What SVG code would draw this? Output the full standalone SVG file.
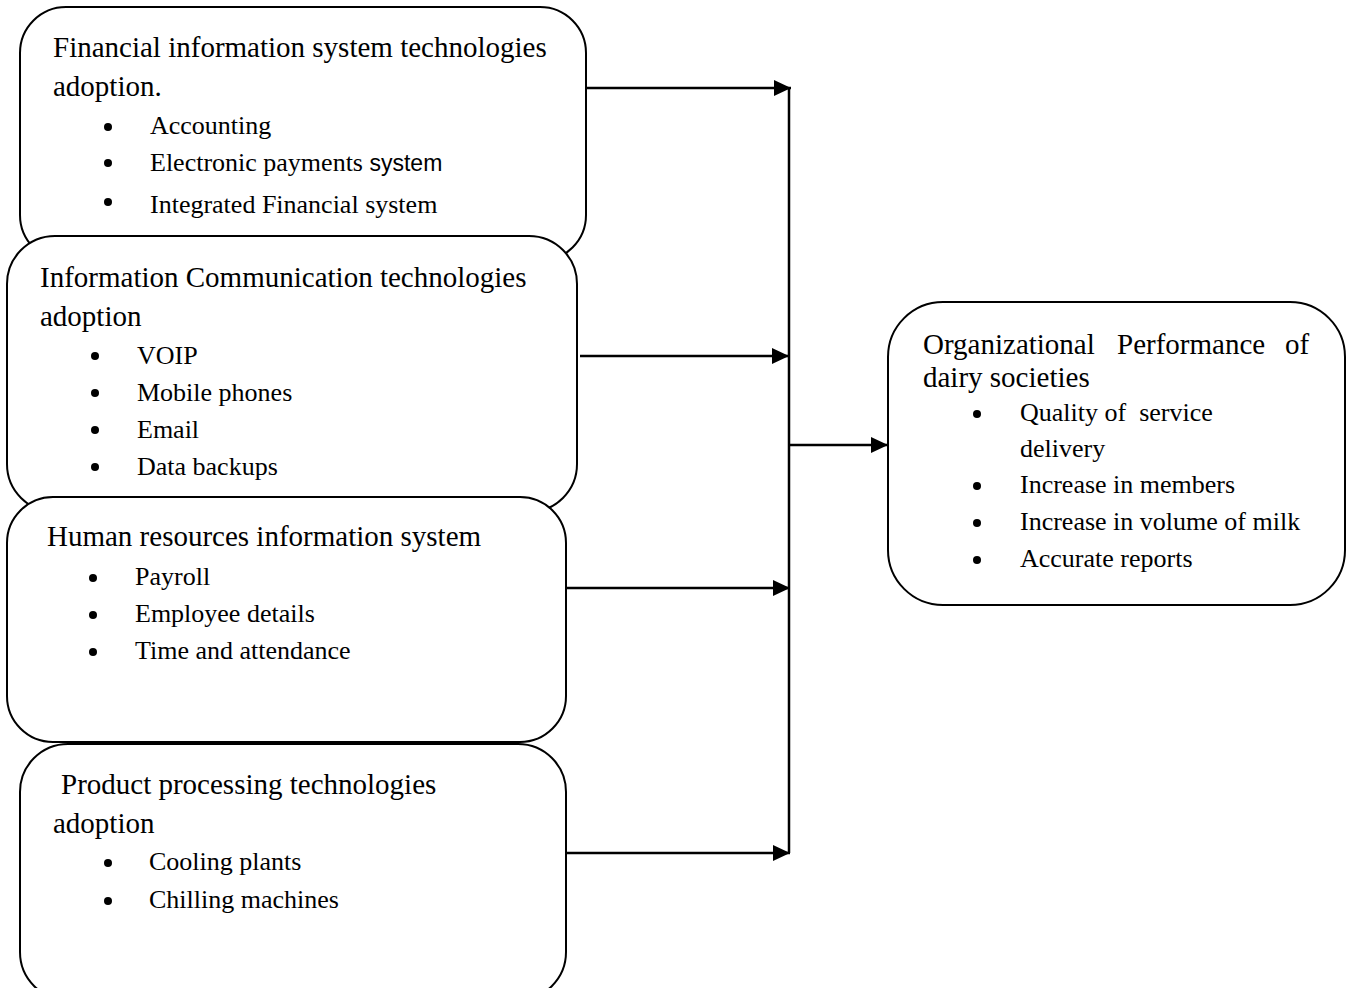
<svg xmlns="http://www.w3.org/2000/svg" width="1350" height="988" viewBox="0 0 1350 988">
<style>
.box{fill:#fff;stroke:#000;stroke-width:2}
.h{font-family:"Liberation Serif","Times New Roman",serif;font-size:29px;fill:#000}
.t{font-family:"Liberation Serif","Times New Roman",serif;font-size:26px;fill:#000;white-space:pre}
.s{font-family:"Liberation Sans",Arial,sans-serif;font-size:23px}
.c{fill:none;stroke:#000;stroke-width:2.5}
.dot{fill:#000}
</style>
<defs>
<marker id="arr" markerUnits="userSpaceOnUse" markerWidth="18" markerHeight="16" refX="17" refY="8" orient="auto">
<path d="M0,0 L17,8 L0,16 z" fill="#000"/>
</marker>
</defs>
<g id="node-financial">
<rect class="box" x="20" y="7" width="566" height="254" rx="46" ry="46"/>
<text class="h" x="53" y="57">Financial information system technologies</text>
<text class="h" x="53" y="96">adoption.</text>
<circle class="dot" cx="108" cy="127" r="4"/>
<text class="t" x="150" y="134">Accounting</text>
<circle class="dot" cx="108" cy="163" r="4"/>
<text class="t" x="150" y="171">Electronic payments <tspan class="s">system</tspan></text>
<circle class="dot" cx="108" cy="202" r="4"/>
<text class="t" x="150" y="213">Integrated Financial system</text>
</g>
<g id="node-ict">
<rect class="box" x="7" y="236" width="570" height="276" rx="48" ry="48"/>
<text class="h" x="40" y="287">Information Communication technologies</text>
<text class="h" x="40" y="326">adoption</text>
<circle class="dot" cx="95" cy="356" r="4"/>
<text class="t" x="137" y="364">VOIP</text>
<circle class="dot" cx="95" cy="393" r="4"/>
<text class="t" x="137" y="401">Mobile phones</text>
<circle class="dot" cx="95" cy="430" r="4"/>
<text class="t" x="137" y="438">Email</text>
<circle class="dot" cx="95" cy="467" r="4"/>
<text class="t" x="137" y="475">Data backups</text>
</g>
<g id="node-hris">
<rect class="box" x="7" y="497" width="559" height="245" rx="46" ry="46"/>
<text class="h" x="47" y="546">Human resources information system</text>
<circle class="dot" cx="93" cy="578" r="4"/>
<text class="t" x="135" y="585">Payroll</text>
<circle class="dot" cx="93" cy="615" r="4"/>
<text class="t" x="135" y="622">Employee details</text>
<circle class="dot" cx="93" cy="652" r="4"/>
<text class="t" x="135" y="659">Time and attendance</text>
</g>
<g id="node-product">
<rect class="box" x="20" y="744" width="546" height="256" rx="48" ry="48"/>
<text class="h" x="61" y="794">Product processing technologies</text>
<text class="h" x="53" y="833">adoption</text>
<circle class="dot" cx="108" cy="863" r="4"/>
<text class="t" x="149" y="870">Cooling plants</text>
<circle class="dot" cx="108" cy="901" r="4"/>
<text class="t" x="149" y="908">Chilling machines</text>
</g>
<g id="node-performance">
<rect class="box" x="888" y="302" width="457" height="303" rx="55" ry="55"/>
<text class="h" x="923" y="354">Organizational</text>
<text class="h" x="1117" y="354">Performance</text>
<text class="h" x="1285" y="354">of</text>
<text class="h" x="923" y="387">dairy societies</text>
<circle class="dot" cx="977" cy="414" r="4"/>
<text class="t" x="1020" y="421" xml:space="preserve">Quality of  service</text>
<text class="t" x="1020" y="457">delivery</text>
<circle class="dot" cx="977" cy="486" r="4"/>
<text class="t" x="1020" y="493">Increase in members</text>
<circle class="dot" cx="977" cy="523" r="4"/>
<text class="t" x="1020" y="530">Increase in volume of milk</text>
<circle class="dot" cx="977" cy="560" r="4"/>
<text class="t" x="1020" y="567">Accurate reports</text>
</g>
<g id="connectors">
<line class="c" x1="586" y1="88" x2="791" y2="88" marker-end="url(#arr)"/>
<line class="c" x1="580" y1="356" x2="789" y2="356" marker-end="url(#arr)"/>
<line class="c" x1="566" y1="588" x2="790" y2="588" marker-end="url(#arr)"/>
<line class="c" x1="566" y1="853" x2="790" y2="853" marker-end="url(#arr)"/>
<line class="c" x1="789" y1="88" x2="789" y2="853"/>
<line class="c" x1="789" y1="445" x2="888" y2="445" marker-end="url(#arr)"/>
</g>
</svg>
